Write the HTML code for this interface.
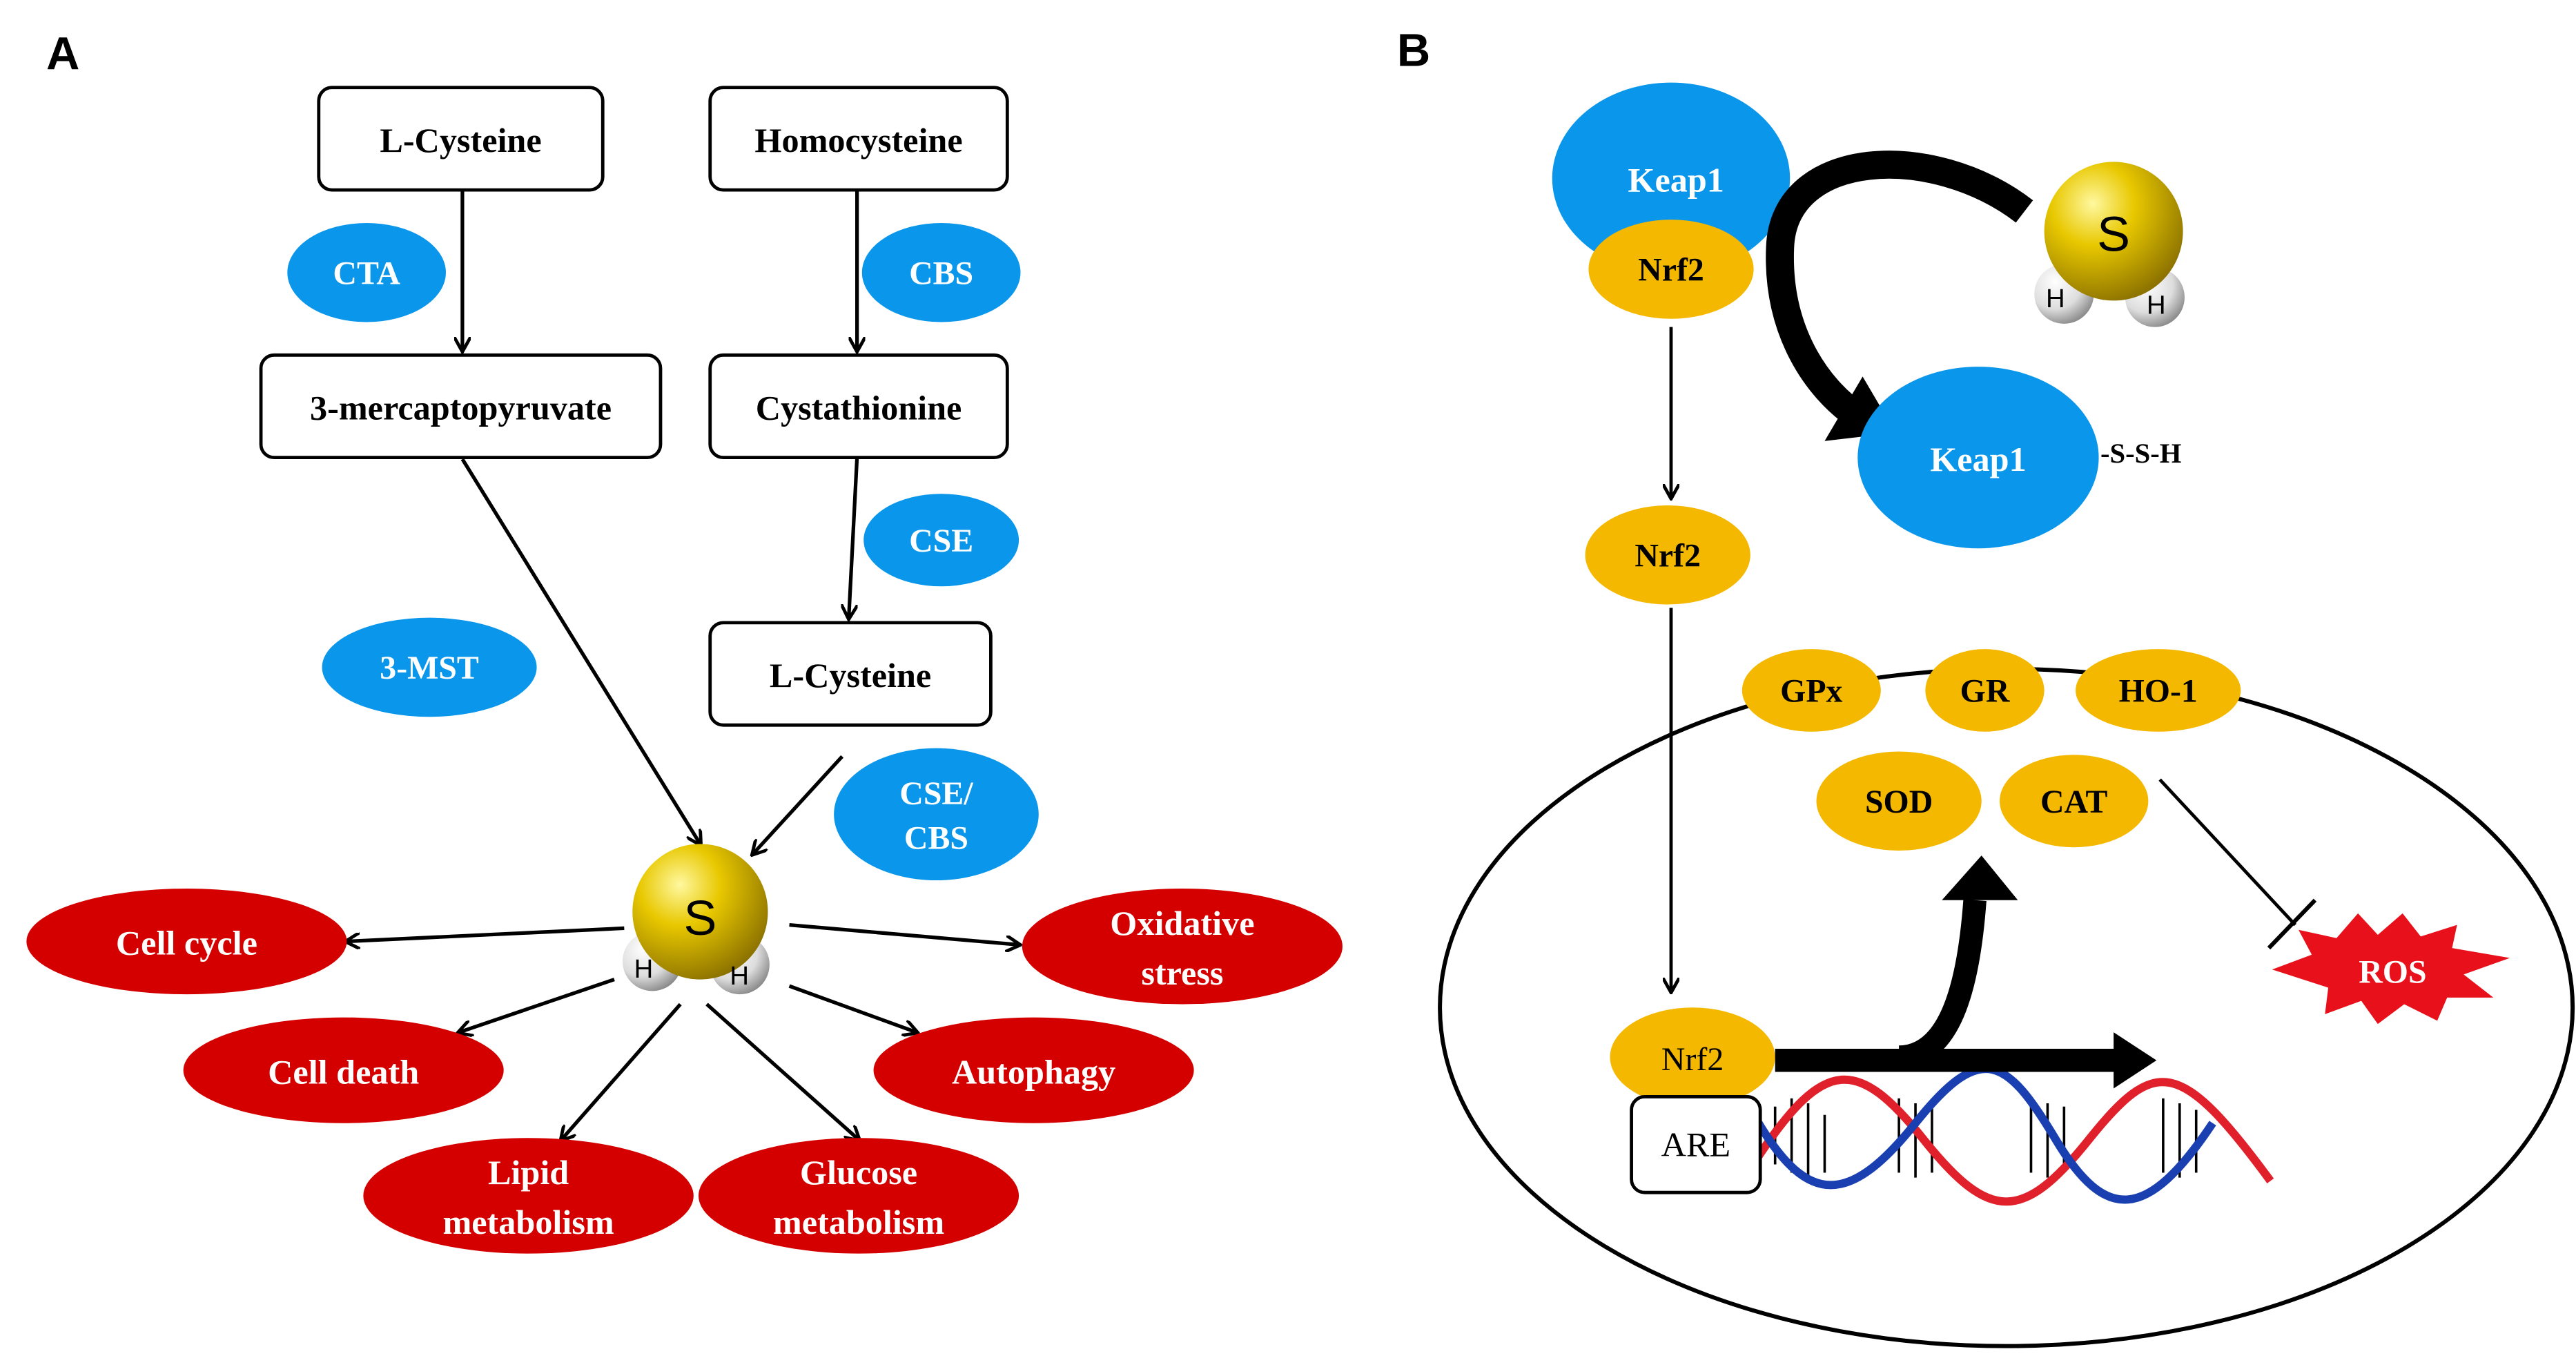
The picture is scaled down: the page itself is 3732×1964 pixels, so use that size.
<!DOCTYPE html>
<html><head><meta charset="utf-8"><style>
html,body{margin:0;padding:0;background:#fff;}
svg{display:block;}
text{font-family:"Liberation Serif",serif;font-weight:bold;}
</style></head><body>
<svg width="3732" height="1964" viewBox="0 0 1560 821" xmlns="http://www.w3.org/2000/svg">
<defs>
<marker id="ah" markerWidth="10" markerHeight="10" refX="8" refY="5" orient="auto" markerUnits="userSpaceOnUse"><path d="M0,0 L9,5 L0,10" fill="none" stroke="#000" stroke-width="2"/></marker>
<radialGradient id="yg" cx="35%" cy="30%" r="75%"><stop offset="0" stop-color="#fff8a0"/><stop offset="0.4" stop-color="#e8c800"/><stop offset="1" stop-color="#8a7000"/></radialGradient>
<radialGradient id="wg" cx="35%" cy="30%" r="75%"><stop offset="0" stop-color="#fff"/><stop offset="0.6" stop-color="#ddd"/><stop offset="1" stop-color="#888"/></radialGradient>
</defs>
<text x="28" y="42" style="font-family:'Liberation Sans',sans-serif;font-size:28px">A</text>
<text x="846" y="40" style="font-family:'Liberation Sans',sans-serif;font-size:28px">B</text>
<!-- Panel A boxes -->
<g fill="#fff" stroke="#000" stroke-width="2">
<rect x="193" y="53" width="172" height="62" rx="8"/>
<rect x="430" y="53" width="180" height="62" rx="8"/>
<rect x="158" y="215" width="242" height="62" rx="8"/>
<rect x="430" y="215" width="180" height="62" rx="8"/>
<rect x="430" y="377" width="170" height="62" rx="8"/>
</g>
<g font-size="21" text-anchor="middle">
<text x="279" y="92">L-Cysteine</text>
<text x="520" y="92">Homocysteine</text>
<text x="279" y="254">3-mercaptopyruvate</text>
<text x="520" y="254">Cystathionine</text>
<text x="515" y="416">L-Cysteine</text>
</g>
<g fill="#0a96ea">
<ellipse cx="222" cy="165" rx="48" ry="30"/>
<ellipse cx="570" cy="165" rx="48" ry="30"/>
<ellipse cx="570" cy="327" rx="47" ry="28"/>
<ellipse cx="260" cy="404" rx="65" ry="30"/>
<ellipse cx="567" cy="493" rx="62" ry="40"/>
</g>
<g fill="#fff" font-size="20" text-anchor="middle">
<text x="222" y="172">CTA</text>
<text x="570" y="172">CBS</text>
<text x="570" y="334">CSE</text>
<text x="260" y="411">3-MST</text>
<text x="567" y="487">CSE/</text>
<text x="567" y="514">CBS</text>
</g>
<g stroke="#000" stroke-width="2.2" marker-end="url(#ah)">
<line x1="280" y1="115" x2="280" y2="212"/>
<line x1="519" y1="115" x2="519" y2="212"/>
<line x1="519" y1="277" x2="514" y2="374"/>
<line x1="280" y1="278" x2="424" y2="511"/>
<line x1="510" y1="458" x2="456" y2="517"/>
<line x1="378" y1="562" x2="210" y2="570"/>
<line x1="478" y1="560" x2="617" y2="572"/>
<line x1="372" y1="593" x2="278" y2="625"/>
<line x1="478" y1="597" x2="555" y2="625"/>
<line x1="412" y1="608" x2="340" y2="690"/>
<line x1="428" y1="608" x2="520" y2="690"/>
</g>
<!-- H2S A -->
<g>
<circle cx="395" cy="582" r="18" fill="url(#wg)"/>
<circle cx="448" cy="584" r="18" fill="url(#wg)"/>
<circle cx="424" cy="552" r="41" fill="url(#yg)"/>
<text x="414" y="566" style="font-family:'Liberation Sans',sans-serif;font-weight:normal;font-size:30px">S</text>
<text x="384" y="592" style="font-family:'Liberation Sans',sans-serif;font-weight:normal;font-size:16px">H</text>
<text x="442" y="596" style="font-family:'Liberation Sans',sans-serif;font-weight:normal;font-size:16px">H</text>
</g>
<g fill="#d40000">
<ellipse cx="113" cy="570" rx="97" ry="32"/>
<ellipse cx="716" cy="573" rx="97" ry="35"/>
<ellipse cx="208" cy="648" rx="97" ry="32"/>
<ellipse cx="626" cy="648" rx="97" ry="32"/>
<ellipse cx="320" cy="724" rx="100" ry="35"/>
<ellipse cx="520" cy="724" rx="97" ry="35"/>
</g>
<g fill="#fff" font-size="21" text-anchor="middle">
<text x="113" y="578">Cell cycle</text>
<text x="716" y="566">Oxidative</text>
<text x="716" y="596">stress</text>
<text x="208" y="656">Cell death</text>
<text x="626" y="656">Autophagy</text>
<text x="320" y="717">Lipid</text>
<text x="320" y="747">metabolism</text>
<text x="520" y="717">Glucose</text>
<text x="520" y="747">metabolism</text>
</g>
<!-- Panel B -->
<ellipse cx="1215" cy="610" rx="343" ry="205" fill="none" stroke="#000" stroke-width="2.5"/>
<ellipse cx="1012" cy="108" rx="72" ry="58" fill="#0a96ea"/>
<ellipse cx="1012" cy="163" rx="50" ry="30" fill="#f5b800"/>
<text x="1015" y="116" fill="#fff" font-size="21" text-anchor="middle">Keap1</text>
<text x="1012" y="170" font-size="20" text-anchor="middle">Nrf2</text>
<path d="M1226,128 C1170,85 1080,90 1078,150 C1076,200 1100,235 1125,252" fill="none" stroke="#000" stroke-width="17"/>
<path d="M1105,267 L1148,262 L1128,228 Z" fill="#000"/>
<g>
<circle cx="1250" cy="178" r="18" fill="url(#wg)"/>
<circle cx="1305" cy="180" r="18" fill="url(#wg)"/>
<circle cx="1280" cy="140" r="42" fill="url(#yg)"/>
<text x="1270" y="152" style="font-family:'Liberation Sans',sans-serif;font-weight:normal;font-size:30px">S</text>
<text x="1239" y="186" style="font-family:'Liberation Sans',sans-serif;font-weight:normal;font-size:16px">H</text>
<text x="1300" y="190" style="font-family:'Liberation Sans',sans-serif;font-weight:normal;font-size:16px">H</text>
</g>
<ellipse cx="1198" cy="277" rx="73" ry="55" fill="#0a96ea"/>
<text x="1198" y="285" fill="#fff" font-size="21" text-anchor="middle">Keap1</text>
<text x="1272" y="280" font-size="17">-S-S-H</text>
<g stroke="#000" stroke-width="2" marker-end="url(#ah)">
<line x1="1012" y1="198" x2="1012" y2="301"/>
<line x1="1012" y1="368" x2="1012" y2="600"/>
</g>
<g fill="#f5b800">
<ellipse cx="1010" cy="336" rx="50" ry="30"/>
<ellipse cx="1097" cy="418" rx="42" ry="25"/>
<ellipse cx="1202" cy="418" rx="36" ry="25"/>
<ellipse cx="1307" cy="418" rx="50" ry="25"/>
<ellipse cx="1150" cy="485" rx="50" ry="30"/>
<ellipse cx="1256" cy="485" rx="45" ry="28"/>
</g>
<g font-size="20" text-anchor="middle">
<text x="1010" y="343">Nrf2</text>
<text x="1097" y="425">GPx</text>
<text x="1202" y="425">GR</text>
<text x="1307" y="425">HO-1</text>
<text x="1150" y="492">SOD</text>
<text x="1256" y="492">CAT</text>
</g>
<!-- DNA -->
<g fill="none" stroke-width="5">
<g stroke="#000" stroke-width="1.5">
<path d="M1075,670 v35 M1085,665 v45 M1095,668 v45 M1105,675 v35 M1150,665 v45 M1160,668 v45 M1170,670 v40 M1230,665 v45 M1240,668 v45 M1250,670 v40 M1310,665 v45 M1320,668 v45 M1330,672 v38"/>
</g>
<path d="M1065,700 C1105,640 1125,640 1165,690 S1225,740 1265,690 S1320,640 1375,715" stroke="#e0202a"/>
<path d="M1065,680 C1095,730 1120,730 1160,680 S1215,640 1245,690 S1300,740 1340,680" stroke="#1a3fb0"/>
</g>
<ellipse cx="1025" cy="640" rx="50" ry="30" fill="#f5b800"/>
<text x="1025" y="648" text-anchor="middle" style="font-weight:normal;font-size:20px">Nrf2</text>
<rect x="988" y="664" width="78" height="58" rx="8" fill="#fff" stroke="#000" stroke-width="2"/>
<text x="1027" y="700" text-anchor="middle" style="font-weight:normal;font-size:21px">ARE</text>
<line x1="1075" y1="642" x2="1285" y2="642" stroke="#000" stroke-width="14"/>
<path d="M1280,625 L1306,642 L1280,659 Z" fill="#000"/>
<path d="M1150,640 C1180,640 1192,600 1196,545" fill="none" stroke="#000" stroke-width="14"/>
<path d="M1176,545 L1200,518 L1222,545 Z" fill="#000"/>
<line x1="1308" y1="472" x2="1390" y2="560" stroke="#000" stroke-width="2"/>
<line x1="1374" y1="574" x2="1402" y2="545" stroke="#000" stroke-width="2.5"/>
<path d="M1376,587 L1400,578 L1392,563 L1415,568 L1428,553 L1440,566 L1455,553 L1466,567 L1488,560 L1485,574 L1520,580 L1492,590 L1510,604 L1482,604 L1476,618 L1456,608 L1440,620 L1430,606 L1408,614 L1410,598 Z" fill="#e8101a"/>
<text x="1449" y="595" fill="#fff" font-size="20" text-anchor="middle">ROS</text>
</svg>
</body></html>
